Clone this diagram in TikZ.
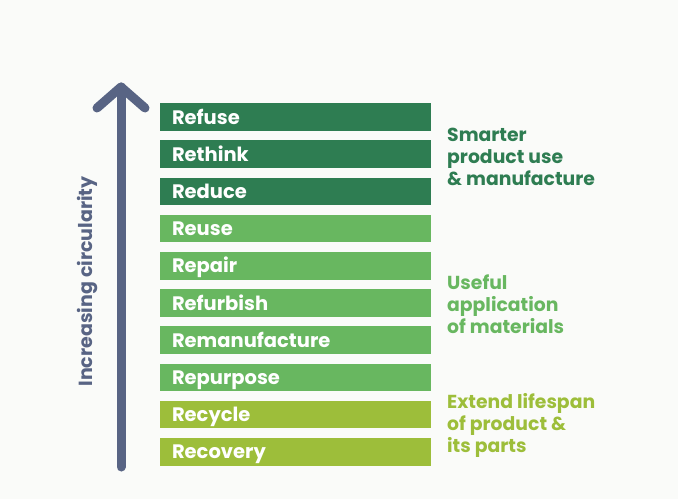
\documentclass[tikz,border=0pt]{standalone}
\usepackage{fontspec}
\setmainfont{Poppins}
\usetikzlibrary{positioning}

\definecolor{darkgreen}{RGB}{46,125,82}
\definecolor{midgreen}{RGB}{104,183,96}
\definecolor{limegreen}{RGB}{157,190,58}
\definecolor{arrowblue}{RGB}{88,100,132}
\definecolor{paper}{RGB}{250,251,249}

\begin{document}
\begin{tikzpicture}[x=1pt, y=1pt,
  bar/.style={minimum height=27.5pt, text width=247pt, inner xsep=12pt, inner ysep=0pt,
              text height=16pt, text depth=2pt,
              text=white, font=\bfseries\fontsize{19.5}{19.5}\selectfont},
  group/.style={align=left, anchor=base west, inner sep=0pt,
                font=\bfseries\fontsize{18.8}{21.8}\selectfont}]
  \fill[paper] (0,0) rectangle (678,-499);
  \useasboundingbox (0,0) rectangle (678,-499);

  % the ten R's, top to bottom
  \node[bar, fill=darkgreen] (refuse) at (295.5,-117) {Refuse};
  \node[bar, fill=darkgreen, below=9.3pt of refuse] (rethink) {Rethink};
  \node[bar, fill=darkgreen, below=9.3pt of rethink] (reduce) {Reduce};
  \node[bar, fill=midgreen, below=9.3pt of reduce] (reuse) {Reuse};
  \node[bar, fill=midgreen, below=9.3pt of reuse] (repair) {Repair};
  \node[bar, fill=midgreen, below=9.3pt of repair] (refurbish) {Refurbish};
  \node[bar, fill=midgreen, below=9.3pt of refurbish] (remanufacture) {Remanufacture};
  \node[bar, fill=midgreen, below=9.3pt of remanufacture] (repurpose) {Repurpose};
  \node[bar, fill=limegreen, below=9.3pt of repurpose] (recycle) {Recycle};
  \node[bar, fill=limegreen, below=9.3pt of recycle] (recovery) {Recovery};

  % group labels (base = last line)
  \node[group, text=darkgreen] (smarter) at (447,-185) {Smarter\\product use\\\& manufacture};
  \node[group, text=midgreen] (useful) at (447,-333) {Useful\\application\\of materials};
  \node[group, text=limegreen] (extend) at (447,-452) {Extend lifespan\\of product \&\\its parts};

  % arrow
  \coordinate (arrowbot) at (121,-467);
  \coordinate (arrowtop) at (121,-87);
  \draw[arrowblue, line width=9pt, line cap=round] (arrowbot) -- (arrowtop);
  \draw[arrowblue, line width=9pt, line cap=round, line join=round]
    ([xshift=-24pt, yshift=-21pt]arrowtop) -- (arrowtop) -- ([xshift=24pt, yshift=-21pt]arrowtop);
  \node[rotate=90, text=arrowblue, font=\bfseries\fontsize{19}{19}\selectfont] (circ) at (88,-281.5) {Increasing circularity};
\end{tikzpicture}
\end{document}
